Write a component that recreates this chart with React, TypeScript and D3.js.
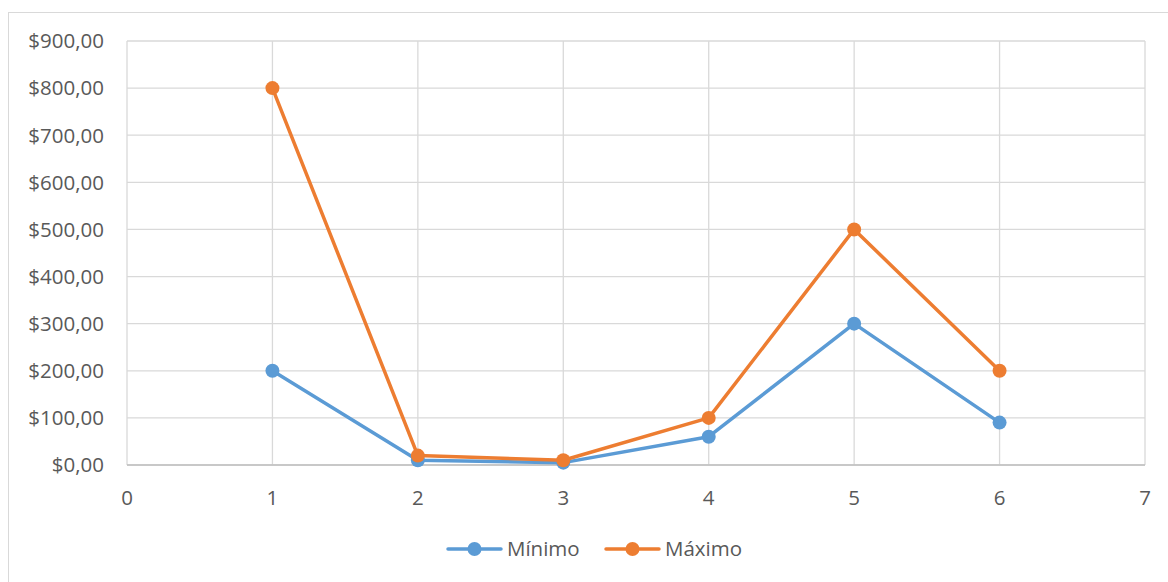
import React from "react";
import * as d3 from "d3";

const xValues = [1, 2, 3, 4, 5, 6];
const minimo = [200, 10, 5, 60, 300, 90];
const maximo = [800, 20, 10, 100, 500, 200];
const yTicks = [0, 100, 200, 300, 400, 500, 600, 700, 800, 900];
const xTicks = [0, 1, 2, 3, 4, 5, 6, 7];
const seriesNames = ["Mínimo", "Máximo"];
const colors = ["#5B9BD5", "#ED7D31"];

const W = 1168;
const H = 582;
const font = "'Open Sans', 'Noto Sans', sans-serif";

export default function App() {
  const x = d3.scaleLinear().domain([0, 7]).range([127, 1145]);
  const y = d3.scaleLinear().domain([0, 900]).range([465, 41]);
  const line = d3
    .line<number>()
    .x((_, i) => x(xValues[i]))
    .y((d) => y(d));
  const fmt = (v: number) => "$" + v.toFixed(2).replace(".", ",");
  const series = [minimo, maximo];
  const legendX = [448, 606];

  return (
    <svg
      width={W}
      height={H}
      style={{ position: "absolute", left: 0, top: 0 }}
      fontFamily={font}
    >
      <rect x={0} y={0} width={W} height={H} fill="#fff" />
      <rect x={8.5} y={12.5} width={1170} height={600} fill="#fff" stroke="#d9d9d9" />
      {yTicks.map((t) => (
        <line key={"gy" + t} x1={x(0)} x2={x(7)} y1={y(t)} y2={y(t)} stroke="#d9d9d9" strokeWidth={1.3} />
      ))}
      {xTicks.map((t) => (
        <line key={"gx" + t} x1={x(t)} x2={x(t)} y1={y(0)} y2={y(900)} stroke="#d9d9d9" strokeWidth={1.3} />
      ))}
      <line x1={x(0)} x2={x(7)} y1={y(0)} y2={y(0)} stroke="#bfbfbf" strokeWidth={1.3} />
      {yTicks.map((t) => (
        <text key={"ty" + t} x={104} y={y(t)} dy="0.36em" textAnchor="end" fontSize={20.5} fill="#595959">
          {fmt(t)}
        </text>
      ))}
      {xTicks.map((t) => (
        <text key={"tx" + t} x={x(t)} y={498} dy="0.36em" textAnchor="middle" fontSize={20.5} fill="#595959">
          {t}
        </text>
      ))}
      {series.map((s, si) => (
        <g key={"s" + si}>
          <path d={line(s) || ""} fill="none" stroke={colors[si]} strokeWidth={3.5} strokeLinejoin="round" />
          {s.map((v, i) => (
            <circle key={i} cx={x(xValues[i])} cy={y(v)} r={7} fill={colors[si]} />
          ))}
        </g>
      ))}
      {seriesNames.map((n, i) => (
        <g key={"l" + i}>
          <line x1={legendX[i]} x2={legendX[i] + 53} y1={549} y2={549} stroke={colors[i]} strokeWidth={3.5} strokeLinecap="round" />
          <circle cx={legendX[i] + 26.5} cy={549} r={7} fill={colors[i]} />
          <text x={legendX[i] + 59} y={549} dy="0.36em" fontSize={20.5} fill="#595959">
            {n}
          </text>
        </g>
      ))}
    </svg>
  );
}
